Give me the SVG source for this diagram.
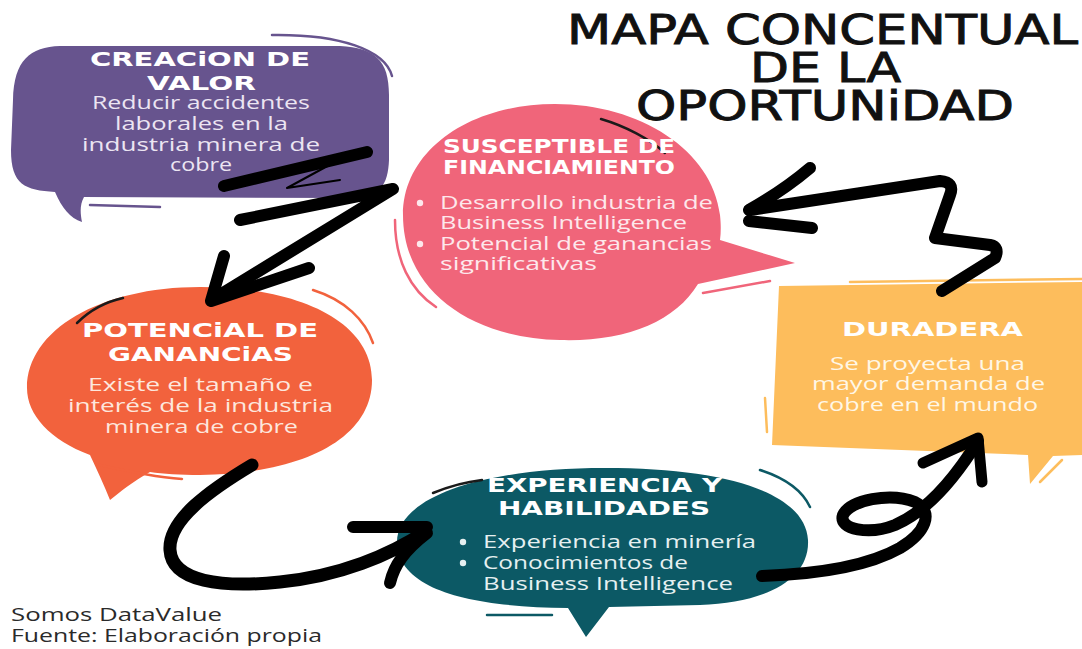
<svg xmlns="http://www.w3.org/2000/svg" width="1082" height="649" viewBox="0 0 1082 649">
  <style>
    .head { font-family: "DejaVu Sans", "Liberation Sans", sans-serif; font-weight: bold; fill: #ffffff; font-size: 19px; }
    .body { font-family: "Open Sans", "Liberation Sans", sans-serif; font-size: 18.5px; }
    .title { font-family: "DejaVu Sans", "Liberation Sans", sans-serif; fill: #111111; stroke: #111111; stroke-width: 0.9; font-size: 40px; }
    .foot { font-family: "Open Sans", "Liberation Sans", sans-serif; font-size: 18.5px; fill: #2a2a2a; }
    .brush { fill: none; stroke: #000000; stroke-linecap: round; stroke-linejoin: round; }
    .accent { fill: none; stroke-width: 2.5; stroke-linecap: round; }
  </style>

  <rect width="1082" height="649" fill="#ffffff"/>

  <!-- Creación de valor -->
  <g id="node-creacion">
    <path d="M60,46 C30,47 14,60 13,100 L11,150 C11,185 25,190 55,192 C62,208 70,218 82,222 C80,212 80,204 84,197 L350,198 C380,198 388,185 389,160 L389,95 C389,60 375,48 340,46 Z" fill="#67548E"/>
    <path class="accent" d="M272,35 C340,34 385,50 392,76" stroke="#67548E"/>
    <path class="accent" d="M90,205 L160,207" stroke="#67548E"/>
    <text class="head" x="90" y="66" textLength="220" lengthAdjust="spacingAndGlyphs">CREACiON DE</text>
    <text class="head" x="147" y="90" textLength="109" lengthAdjust="spacingAndGlyphs">VALOR</text>
    <g class="body" fill="#ECE5F2">
      <text x="92" y="109" textLength="218" lengthAdjust="spacingAndGlyphs">Reducir accidentes</text>
      <text x="115" y="130" textLength="173" lengthAdjust="spacingAndGlyphs">laborales en la</text>
      <text x="82" y="151" textLength="238" lengthAdjust="spacingAndGlyphs">industria minera de</text>
      <text x="170" y="171" textLength="62" lengthAdjust="spacingAndGlyphs">cobre</text>
    </g>
  </g>

  <!-- Susceptible de financiamiento -->
  <g id="node-financiamiento">
    <path d="M555,104 C640,104 712,150 720,215 C721,225 721,232 720,240 L795,263 L698,284 C675,322 625,342 560,340 C470,338 403,290 403,215 C403,150 470,104 555,104 Z" fill="#F0657A"/>
    <path class="accent" d="M395,220 C395,260 410,290 436,307" stroke="#F0657A"/>
    <path class="accent" d="M703,293 L770,281" stroke="#F0657A"/>
    <path class="accent" d="M601,119 C625,126 650,139 665,153" stroke="#1a1a1a"/>
    <text class="head" x="443" y="153" textLength="232" lengthAdjust="spacingAndGlyphs">SUSCEPTIBLE DE</text>
    <text class="head" x="443" y="174" textLength="232" lengthAdjust="spacingAndGlyphs">FINANCIAMIENTO</text>
    <circle cx="420" cy="203" r="3.2" fill="#FDE8EC"/>
    <circle cx="420" cy="244" r="3.2" fill="#FDE8EC"/>
    <g class="body" fill="#FDE8EC">
      <text x="440" y="209" textLength="273" lengthAdjust="spacingAndGlyphs">Desarrollo industria de</text>
      <text x="440" y="229" textLength="247" lengthAdjust="spacingAndGlyphs">Business Intelligence</text>
      <text x="440" y="250" textLength="272" lengthAdjust="spacingAndGlyphs">Potencial de ganancias</text>
      <text x="440" y="270" textLength="157" lengthAdjust="spacingAndGlyphs">significativas</text>
    </g>
  </g>

  <!-- Potencial de ganancias -->
  <g id="node-potencial">
    <path d="M200,287 C300,287 372,322 372,380 C372,440 300,474 200,475 C180,475 163,474 150,472 C132,482 120,492 110,500 C104,485 97,470 90,455 C50,440 27,415 27,388 C27,330 100,287 200,287 Z" fill="#F2623D"/>
    <path class="accent" d="M77,323 C90,310 105,302 123,298" stroke="#1a1a1a"/>
    <path class="accent" d="M313,290 C345,300 365,320 373,343" stroke="#F2623D"/>
    <path class="accent" d="M100,465 C130,472 155,477 182,479" stroke="#F2623D"/>
    <text class="head" x="82" y="337" textLength="236" lengthAdjust="spacingAndGlyphs">POTENCiAL DE</text>
    <text class="head" x="108" y="361" textLength="185" lengthAdjust="spacingAndGlyphs">GANANCiAS</text>
    <g class="body" fill="#FDE7DD">
      <text x="88" y="391" textLength="225" lengthAdjust="spacingAndGlyphs">Existe el tamaño e</text>
      <text x="68" y="412" textLength="265" lengthAdjust="spacingAndGlyphs">interés de la industria</text>
      <text x="105" y="433" textLength="193" lengthAdjust="spacingAndGlyphs">minera de cobre</text>
    </g>
  </g>

  <!-- Duradera -->
  <g id="node-duradera">
    <path d="M779,286 L1082,282 L1082,455 L1053,456 L1030,484 L1028,455 L772,445 Z" fill="#FDBD5C"/>
    <path class="accent" d="M850,282 L1082,279" stroke="#FDBD5C"/>
    <path class="accent" d="M765,398 L767,432" stroke="#FDBD5C"/>
    <path class="accent" d="M1040,482 L1062,460" stroke="#FDBD5C"/>
    <text class="head" x="842" y="336" textLength="181" lengthAdjust="spacingAndGlyphs">DURADERA</text>
    <g class="body" fill="#FFF7E6">
      <text x="830" y="370" textLength="195" lengthAdjust="spacingAndGlyphs">Se proyecta una</text>
      <text x="812" y="390" textLength="233" lengthAdjust="spacingAndGlyphs">mayor demanda de</text>
      <text x="817" y="411" textLength="221" lengthAdjust="spacingAndGlyphs">cobre en el mundo</text>
    </g>
  </g>

  <!-- Experiencia y habilidades -->
  <g id="node-experiencia">
    <path d="M605,468 C725,468 805,492 808,540 C810,580 765,603 700,605 L609,607 L586,637 L568,608 C470,607 398,590 397,542 C397,498 480,468 605,468 Z" fill="#0C5965"/>
    <path class="accent" d="M433,493 C450,486 465,482 482,480" stroke="#1a1a1a"/>
    <path class="accent" d="M760,470 C785,478 802,490 810,507" stroke="#0C5965"/>
    <path class="accent" d="M487,615 L552,615" stroke="#0C5965"/>
    <text class="head" x="487" y="492" textLength="235" lengthAdjust="spacingAndGlyphs">EXPERIENCIA Y</text>
    <text class="head" x="498" y="515" textLength="212" lengthAdjust="spacingAndGlyphs">HABILIDADES</text>
    <circle cx="463" cy="542" r="3.2" fill="#E6F0F1"/>
    <circle cx="463" cy="563" r="3.2" fill="#E6F0F1"/>
    <g class="body" fill="#E6F0F1">
      <text x="483" y="548" textLength="273" lengthAdjust="spacingAndGlyphs">Experiencia en minería</text>
      <text x="483" y="569" textLength="205" lengthAdjust="spacingAndGlyphs">Conocimientos de</text>
      <text x="483" y="590" textLength="250" lengthAdjust="spacingAndGlyphs">Business Intelligence</text>
    </g>
  </g>

  <!-- Brush-stroke connectors -->
  <g id="connectors">
    <!-- creación de valor -> potencial de ganancias -->
    <path class="brush" stroke-width="12" d="M367,152 L224,186 M240,220 L393,189 L213,299"/>
    <path class="brush" stroke-width="2" d="M333,163 L287,188 L340,180"/>
    <path class="brush" stroke-width="12" d="M224,256 L211,301 L309,268"/>
    <!-- potencial de ganancias -> experiencia y habilidades -->
    <path class="brush" stroke-width="13" d="M252,465 C210,490 168,520 170,550 C172,582 222,588 280,582 C340,576 390,555 425,532"/>
    <path class="brush" stroke-width="12" d="M353,527 L427,527 M390,583 C394,565 405,550 427,533"/>
    <!-- experiencia y habilidades -> duradera -->
    <path class="brush" stroke-width="12" d="M762,576 C820,574 870,565 900,548 C925,533 935,512 915,502 C890,492 850,500 843,515 C838,530 870,535 895,525 C930,510 960,470 978,441"/>
    <path class="brush" stroke-width="11" d="M923,463 L978,438 L982,482"/>
    <!-- duradera -> susceptible de financiamiento -->
    <path class="brush" stroke-width="12" d="M942,291 L995,258 Q1000,247 990,245 L935,238 L950,195 Q955,182 940,181 L750,210"/>
    <path class="brush" stroke-width="12" d="M810,168 C790,185 770,198 749,210 M749,221 L812,228"/>
  </g>

  <!-- Title -->
  <g id="title">
    <text class="title" x="567" y="44" textLength="511" lengthAdjust="spacingAndGlyphs">MAPA CONCENTUAL</text>
    <text class="title" x="750" y="82" textLength="151" lengthAdjust="spacingAndGlyphs">DE LA</text>
    <text class="title" x="636" y="120" textLength="378" lengthAdjust="spacingAndGlyphs">OPORTUNiDAD</text>
  </g>

  <!-- Footer -->
  <g id="footer">
    <text class="foot" x="11" y="621" textLength="211" lengthAdjust="spacingAndGlyphs">Somos DataValue</text>
    <text class="foot" x="11" y="642" textLength="311" lengthAdjust="spacingAndGlyphs">Fuente: Elaboración propia</text>
  </g>
</svg>
